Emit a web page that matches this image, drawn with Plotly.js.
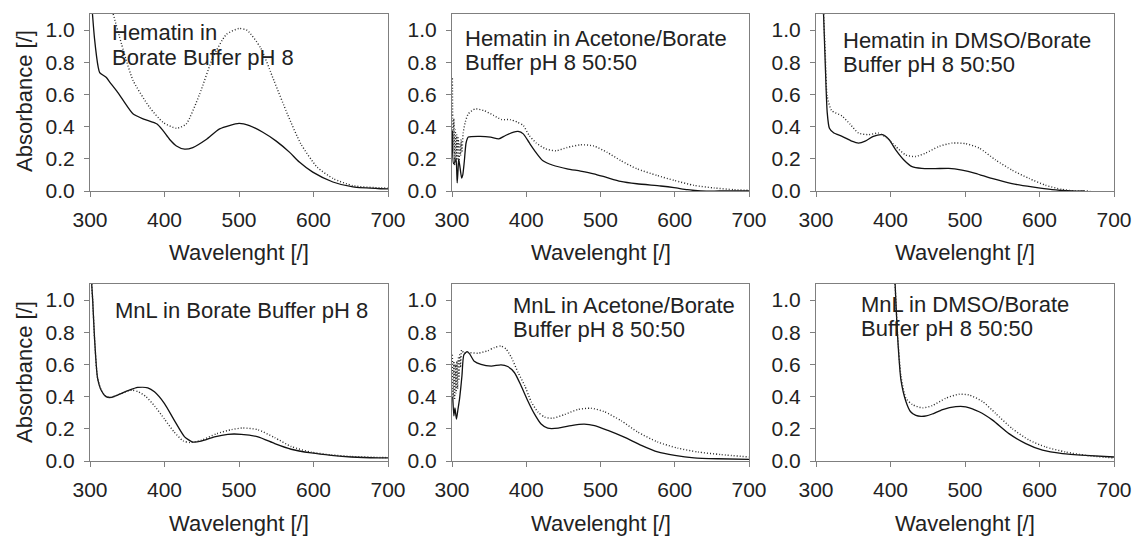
<!DOCTYPE html>
<html>
<head>
<meta charset="utf-8">
<script src="https://cdn.plot.ly/plotly-3.0.1.min.js"></script>
<style>html,body{margin:0;padding:0;background:#fff;}#chart{width:1135px;height:536px;}</style>
</head>
<body>
<div id="chart"></div>
<script>
// ---------- Data ----------
const panelTitleLines = [
  ["Hematin in", "Borate Buffer pH 8"],
  ["Hematin in Acetone/Borate", "Buffer pH 8 50:50"],
  ["Hematin in DMSO/Borate", "Buffer pH 8 50:50"],
  ["MnL in Borate Buffer pH 8"],
  ["MnL in Acetone/Borate", "Buffer pH 8 50:50"],
  ["MnL in DMSO/Borate", "Buffer pH 8 50:50"]
];
const xTickVals = [300, 400, 500, 600, 700];
const yTickVals = [0, 0.2, 0.4, 0.6, 0.8, 1.0];
const xTitle = "Wavelenght [/]";
const yTitle = "Absorbance [/]";

// Panel 1: Hematin in borate buffer
const p1SolidWl = [303,306,311,313,322,327,336,345,358,372,390,398,407,416,427,438,456,474,500,514,532,550,568,581,599,626,653,690,700];
const p1SolidA  = [1.12,0.95,0.77,0.736,0.705,0.674,0.62,0.56,0.478,0.447,0.416,0.375,0.32,0.28,0.26,0.27,0.32,0.386,0.42,0.406,0.365,0.31,0.24,0.18,0.117,0.056,0.025,0.014,0.013];
const p1DotWl = [330,345,358,380,398,416,429,447,465,483,500,511,529,547,565,583,605,627,653,690,700];
const p1DotA  = [1.12,0.87,0.685,0.52,0.427,0.39,0.416,0.6,0.83,0.973,1.01,0.998,0.89,0.685,0.478,0.293,0.148,0.076,0.033,0.019,0.018];

// Panel 2: Hematin in acetone/borate
const p2SolidWl = [300.5,302,304,305.5,307,308,309,311,313,314.5,316.5,319,322,338,352,363,372,383,389,396,404,413,422,436,455,473,491,509,527,549,581,599,617,635,660,700];
const p2SolidA  = [0.375,0.17,0.18,0.2,0.05,0.12,0.2,0.14,0.08,0.1,0.18,0.3,0.335,0.34,0.335,0.324,0.345,0.366,0.37,0.355,0.30,0.24,0.19,0.16,0.138,0.124,0.107,0.083,0.06,0.045,0.031,0.021,0.008,0.0,0.0,0.0];
const p2DotWl = [300.5,301.5,302.5,303.5,304.5,305.5,306.5,307.5,308.5,309.5,310.5,311.5,312.5,313.5,315,318,322,331,343,356,367,378,388,396,404,413,426,440,455,473,491,509,527,549,576,599,626,653,680,700];
const p2DotA  = [0.70,0.25,0.45,0.16,0.38,0.18,0.35,0.2,0.33,0.17,0.30,0.22,0.32,0.24,0.36,0.43,0.48,0.51,0.50,0.47,0.444,0.444,0.428,0.407,0.345,0.30,0.262,0.25,0.27,0.287,0.28,0.24,0.19,0.138,0.097,0.066,0.035,0.019,0.008,0.004];

// Panel 3: Hematin in DMSO/borate
const p3SolidWl = [310,312.5,315,318,324,335,348,357,366,377,389,398,407,418,429,442,460,478,496,514,536,563,590,617,644,660];
const p3SolidA  = [1.12,0.78,0.49,0.39,0.36,0.34,0.31,0.298,0.31,0.34,0.35,0.32,0.256,0.193,0.151,0.14,0.139,0.141,0.13,0.11,0.078,0.046,0.025,0.008,0.0,0.0];
const p3DotWl = [310,312.5,315,321,335,346,357,371,384,395,407,420,433,447,465,483,501,519,541,563,586,608,630,648,668];
const p3DotA  = [1.12,0.85,0.59,0.50,0.466,0.414,0.36,0.35,0.36,0.33,0.277,0.225,0.214,0.235,0.277,0.298,0.294,0.267,0.193,0.13,0.078,0.036,0.01,0.0,0.0];

// Panel 4: MnL in borate buffer
const p4SolidWl = [302,303.6,306,310,315,321.5,328,337,351,364,377.6,386.5,400,413,427,438,449,467,485,503,525.6,548,570,597,624,651,687,700];
const p4SolidA  = [1.12,1.0,0.77,0.52,0.44,0.40,0.395,0.41,0.437,0.457,0.455,0.43,0.357,0.254,0.15,0.118,0.123,0.15,0.166,0.166,0.15,0.108,0.073,0.05,0.035,0.025,0.02,0.02];
const p4DotWl = [302,303.6,306,310,315,321.5,328,337,351,357,365,375,387,400,413,425,435,450,470,490,505,525,548,570,597,624,651,690,700];
const p4DotA  = [1.12,1.0,0.77,0.52,0.44,0.40,0.395,0.41,0.435,0.44,0.43,0.40,0.34,0.26,0.18,0.125,0.115,0.13,0.17,0.195,0.205,0.195,0.145,0.09,0.055,0.038,0.028,0.022,0.021];

// Panel 5: MnL in acetone/borate
const p5SolidWl = [301,302.5,304,306,308,310,311.7,313.4,316,320.6,324,330,339,353,366,375,384,393,402,411,420,429,443,460.5,478,492,510,532,555,577,600,626,658,700];
const p5SolidA  = [0.40,0.28,0.33,0.26,0.32,0.38,0.45,0.53,0.66,0.68,0.664,0.62,0.60,0.59,0.598,0.587,0.55,0.468,0.375,0.293,0.23,0.204,0.204,0.22,0.229,0.22,0.19,0.148,0.097,0.056,0.035,0.02,0.014,0.01];
const p5DotWl = [300.5,301.5,302.5,303.5,304.5,305.5,306.5,307.5,308.5,309.5,310.5,311.5,313,316,321.5,335,348,357,366,373,380,389,398,407,416,425,436,451.6,469.5,487,505,528,550,577,604,631,662,700];
const p5DotA  = [0.66,0.40,0.62,0.38,0.60,0.42,0.62,0.45,0.64,0.50,0.66,0.58,0.69,0.67,0.674,0.67,0.685,0.705,0.715,0.695,0.643,0.55,0.468,0.365,0.303,0.272,0.266,0.289,0.32,0.328,0.307,0.25,0.18,0.118,0.08,0.056,0.04,0.025];

// Panel 6: MnL in DMSO/borate
const p6SolidWl = [406,409.5,414,420.7,427,434,441,448,456,470,487.7,501,519,537,559,581.6,604,631,662,700];
const p6SolidA  = [1.12,0.775,0.504,0.37,0.306,0.283,0.277,0.28,0.292,0.32,0.338,0.337,0.306,0.254,0.17,0.108,0.067,0.046,0.035,0.025];
const p6DotWl = [406,409.5,414,420.7,429.6,443,456,474,492,505.6,523.5,541,563.7,586,608,635,662,700];
const p6DotA  = [1.12,0.79,0.53,0.39,0.35,0.33,0.344,0.39,0.415,0.41,0.37,0.296,0.2,0.13,0.0875,0.056,0.035,0.019];

// ---------- Build ----------
const panels = [
  [p1SolidWl,p1SolidA,p1DotWl,p1DotA],
  [p2SolidWl,p2SolidA,p2DotWl,p2DotA],
  [p3SolidWl,p3SolidA,p3DotWl,p3DotA],
  [p4SolidWl,p4SolidA,p4DotWl,p4DotA],
  [p5SolidWl,p5SolidA,p5DotWl,p5DotA],
  [p6SolidWl,p6SolidA,p6DotWl,p6DotA]
];
const W = 1135, H = 536;
const colPx = [[90,388],[452,749],[816,1114]];
const rowPx = [[14,191],[284,461]];
// pixel position (left, centre of first line) of each panel label
const labelPx = [[110,33],[463,38],[841,40],[113,310],[511,305],[859,304]];
const lineGap = 24.5;

const fontFam = '"Liberation Sans", Arial, sans-serif';
const txtColor = '#222';
const frame = '#7f7f7f';

const data = [];
const layout = {
  width: W, height: H,
  margin: {l:0, r:0, t:0, b:0},
  paper_bgcolor: '#fff', plot_bgcolor: '#fff',
  showlegend: false,
  font: {family: fontFam, size: 21, color: txtColor},
  annotations: []
};

panels.forEach((p, i) => {
  const n = i + 1;
  const xa = n === 1 ? 'x' : 'x' + n;
  const ya = n === 1 ? 'y' : 'y' + n;
  data.push({x: p[0], y: p[1], xaxis: xa, yaxis: ya, mode: 'lines', type: 'scatter',
    line: {color: '#111', width: 1.3, shape: 'spline', smoothing: 0.6}, hoverinfo: 'skip'});
  data.push({x: p[2], y: p[3], xaxis: xa, yaxis: ya, mode: 'lines', type: 'scatter',
    line: {color: '#2a2a2a', width: 1.4, dash: '1px,2px', shape: 'spline', smoothing: 0.6}, hoverinfo: 'skip'});
  const c = i % 3, r = Math.floor(i / 3);
  const axCommon = {showline: true, mirror: true, linecolor: frame, linewidth: 1,
    ticks: 'outside', tickcolor: frame, ticklen: 5, tickwidth: 1,
    showgrid: false, zeroline: false, automargin: false,
    tickfont: {family: fontFam, size: 21, color: txtColor}};
  layout['xaxis' + (n === 1 ? '' : n)] = Object.assign({}, axCommon, {
    domain: [colPx[c][0] / W, colPx[c][1] / W], range: [300, 700],
    tickvals: xTickVals, ticktext: xTickVals.map(String), anchor: ya, ticklabelstandoff: 5});
  layout['yaxis' + (n === 1 ? '' : n)] = Object.assign({}, axCommon, {
    domain: [1 - rowPx[r][1] / H, 1 - rowPx[r][0] / H], range: [0, 1.1],
    tickvals: yTickVals, ticktext: yTickVals.map(v => v.toFixed(1)), anchor: xa, ticklabelstandoff: 5});
  panelTitleLines[i].forEach((line, k) => {
    layout.annotations.push({text: line, xref: 'paper', yref: 'paper',
      x: labelPx[i][0] / W, y: 1 - (labelPx[i][1] + k * lineGap) / H,
      xanchor: 'left', yanchor: 'middle', align: 'left', showarrow: false,
      font: {family: fontFam, size: 22, color: txtColor}});
  });
  layout.annotations.push({text: xTitle, xref: 'paper', yref: 'paper',
    x: (colPx[c][0] + colPx[c][1]) / 2 / W, y: 1 - (r === 0 ? 253 : 523) / H,
    xanchor: 'center', yanchor: 'middle', showarrow: false,
    font: {family: fontFam, size: 22, color: txtColor}});
  if (c === 0) {
    layout.annotations.push({text: yTitle, xref: 'paper', yref: 'paper',
      x: 24 / W, y: 1 - (r === 0 ? 101 : 372) / H, textangle: -90,
      xanchor: 'center', yanchor: 'middle', showarrow: false,
      font: {family: fontFam, size: 22, color: txtColor}});
  }
});

Plotly.newPlot('chart', data, layout, {staticPlot: true, displayModeBar: false});
</script>
</body>
</html>
